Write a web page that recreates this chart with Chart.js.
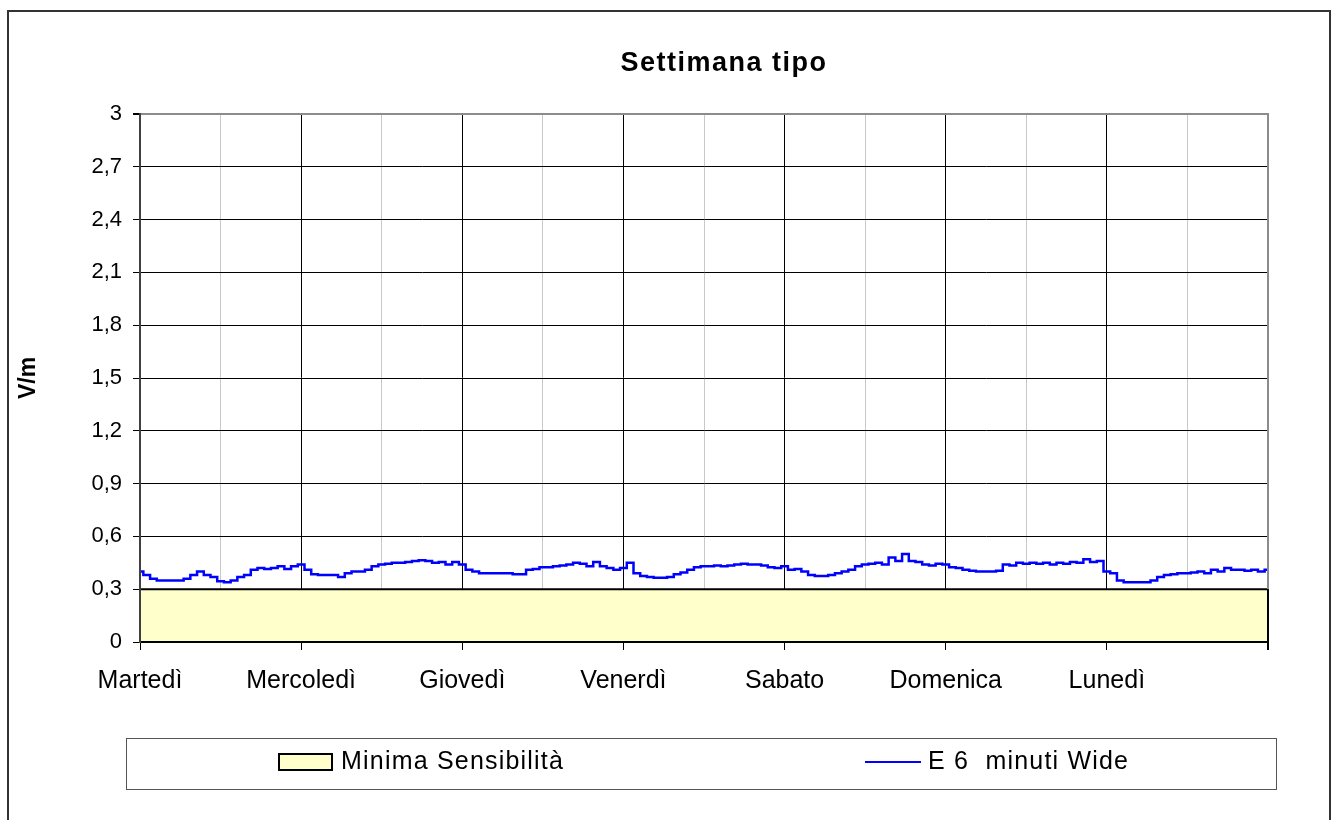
<!DOCTYPE html>
<html>
<head>
<meta charset="utf-8">
<script src="https://cdn.jsdelivr.net/npm/chart.js@4.4.1/dist/chart.umd.min.js"></script>
<style>
  body { margin: 0; background: #fff; overflow: hidden; font-family: "Liberation Sans", Arial, sans-serif; }
  #frame { position: absolute; left: 7px; top: 10px; width: 1324px; height: 830px; border: 2px solid #333; box-sizing: border-box; }
  #wrap { position: absolute; left: 0; top: 0; width: 1335px; height: 820px; }
  #title { position: absolute; left: 0; top: 49px; width: 1448px; text-align: center; font-weight: bold; font-size: 27px; line-height: 27px; letter-spacing: 1.5px; color: #000; }
  #legendBox { position: absolute; left: 126px; top: 738px; width: 1151px; height: 52px; border: 1px solid #555; box-sizing: border-box; }
  .swatch { position: absolute; left: 278px; top: 753px; width: 55px; height: 18px; background: #FFFFCC; border: 2px solid #000; box-sizing: border-box; }
  .lineSw { position: absolute; left: 865px; top: 761px; width: 56px; height: 2px; background: #0000FF; }
  .ltext { position: absolute; top: 748px; font-size: 25px; line-height: 25px; letter-spacing: 1.2px; white-space: pre; color: #000; }
</style>
</head>
<body>
<div id="frame"></div>
<div id="wrap"><canvas id="myChart" width="1335" height="820"></canvas></div>
<div id="title">Settimana tipo</div>
<div id="legendBox"></div>
<div class="swatch"></div>
<div class="ltext" style="left:341px">Minima Sensibilità</div>
<div class="lineSw"></div>
<div class="ltext" style="left:928px">E 6  minuti Wide</div>
<script>
// day labels (one every 24 hours)
const days = ['Martedì', 'Mercoledì', 'Giovedì', 'Venerdì', 'Sabato', 'Domenica', 'Lunedì'];

// hourly readings, V/m
const tue = [0.40, 0.38, 0.36, 0.35, 0.35, 0.35, 0.35, 0.36, 0.38, 0.40, 0.38, 0.37, 0.345, 0.34, 0.35, 0.37, 0.38, 0.41, 0.42, 0.415, 0.42, 0.43, 0.415, 0.43];
const wed = [0.44, 0.41, 0.385, 0.38, 0.38, 0.38, 0.37, 0.39, 0.40, 0.40, 0.41, 0.43, 0.44, 0.445, 0.45, 0.45, 0.455, 0.46, 0.465, 0.46, 0.45, 0.455, 0.44, 0.455];
const thu = [0.44, 0.41, 0.40, 0.39, 0.39, 0.39, 0.39, 0.39, 0.385, 0.385, 0.41, 0.415, 0.425, 0.425, 0.43, 0.435, 0.44, 0.45, 0.445, 0.43, 0.455, 0.43, 0.42, 0.41];
const fri = [0.42, 0.45, 0.39, 0.375, 0.37, 0.365, 0.365, 0.37, 0.385, 0.395, 0.41, 0.425, 0.43, 0.43, 0.435, 0.43, 0.435, 0.44, 0.445, 0.44, 0.44, 0.435, 0.425, 0.42];
const sat = [0.43, 0.41, 0.415, 0.40, 0.38, 0.375, 0.375, 0.38, 0.39, 0.40, 0.41, 0.43, 0.44, 0.445, 0.45, 0.44, 0.48, 0.46, 0.50, 0.46, 0.455, 0.44, 0.435, 0.445];
const sun = [0.44, 0.425, 0.42, 0.41, 0.405, 0.40, 0.40, 0.40, 0.405, 0.44, 0.435, 0.45, 0.445, 0.45, 0.445, 0.45, 0.44, 0.45, 0.445, 0.455, 0.45, 0.47, 0.455, 0.46];
const mon = [0.40, 0.39, 0.35, 0.34, 0.34, 0.34, 0.34, 0.35, 0.37, 0.38, 0.385, 0.39, 0.39, 0.395, 0.40, 0.39, 0.41, 0.40, 0.42, 0.41, 0.41, 0.405, 0.41, 0.40, 0.41];

// minimum sensitivity threshold at start and end of week
const sensHours = [0, 168];
const sensValues = [0.3, 0.3];

const yTicks = { min: 0, max: 3, step: 0.3 };

const eValues = [].concat(tue, wed, thu, fri, sat, sun, mon);
const ePoints = eValues.map((v, i) => ({ x: i, y: v }));
const sensPoints = sensHours.map((h, i) => ({ x: h, y: sensValues[i] }));

const font = '"Liberation Sans", Arial, sans-serif';

// plot frame: grey top/right edge drawn over the fill
const framePlugin = {
    id: 'frame',
    afterDatasetsDraw(chart) {
        const { ctx, chartArea: a, scales } = chart;
        const y03 = scales.y.getPixelForValue(0.3);
        ctx.save();
        ctx.lineWidth = 2;
        ctx.strokeStyle = '#8c8c8c';
        ctx.beginPath();
        ctx.moveTo(a.left, a.top);
        ctx.lineTo(a.right, a.top);
        ctx.lineTo(a.right, y03);
        ctx.stroke();
        ctx.strokeStyle = '#000';
        ctx.beginPath();
        ctx.moveTo(a.right, y03);
        ctx.lineTo(a.right, a.bottom);
        ctx.stroke();
        ctx.restore();
    }
};

let lineCtx = document.getElementById('myChart').getContext('2d');
let myChart = new Chart(lineCtx, {
    type: 'line',
    data: {
        datasets: [
            {
                label: 'E 6  minuti Wide',
                data: ePoints,
                borderColor: '#0000FF',
                borderWidth: 2.5,
                stepped: 'middle',
                pointRadius: 0,
                fill: false
            },
            {
                label: 'Minima Sensibilità',
                data: sensPoints,
                borderColor: '#000',
                borderWidth: 2,
                backgroundColor: '#FFFFCC',
                pointRadius: 0,
                fill: 'origin'
            }
        ]
    },
    options: {
        responsive: false,
        animation: false,
        events: [],
        layout: { padding: { left: 15, right: 67, top: 114, bottom: 118 } },
        plugins: {
            legend: { display: false },
            title: { display: false },
            tooltip: { enabled: false }
        },
        scales: {
            x: {
                type: 'linear',
                min: 0,
                max: 168,
                afterFit: s => { s.height = 60; },
                ticks: {
                    stepSize: 12,
                    autoSkip: false,
                    maxRotation: 0,
                    padding: 16,
                    color: '#000',
                    font: { family: font, size: 25 },
                    callback: v => (v % 24 === 0 && v < 168) ? days[v / 24] : ''
                },
                grid: {
                    tickLength: 8,
                    color: c => c.tick.value === 168 ? '#8c8c8c' : (c.tick.value % 24 === 0 ? '#000' : '#c8c8c8'),
                    lineWidth: c => c.tick.value === 168 ? 2 : 1,
                    tickColor: c => c.tick.value % 24 === 0 ? '#000' : 'rgba(0,0,0,0)'
                },
                border: { color: '#000', width: 2, z: 1 }
            },
            y: {
                min: yTicks.min,
                max: yTicks.max,
                afterFit: s => { s.width = 125; },
                ticks: {
                    stepSize: yTicks.step,
                    padding: 11,
                    color: '#000',
                    font: { family: font, size: 22 },
                    callback: v => String(Math.round(v * 10) / 10).replace('.', ',')
                },
                grid: {
                    tickLength: 7,
                    color: c => c.tick.value >= 3 ? '#8c8c8c' : '#000',
                    lineWidth: c => c.tick.value >= 3 ? 2 : 1,
                    tickColor: '#000'
                },
                border: { color: '#404040', width: 2, z: 1 },
                title: {
                    display: true,
                    text: 'V/m',
                    color: '#000',
                    padding: 0,
                    font: { family: font, size: 23, weight: 'bold' }
                }
            }
        }
    },
    plugins: [framePlugin]
});
</script>
</body>
</html>
